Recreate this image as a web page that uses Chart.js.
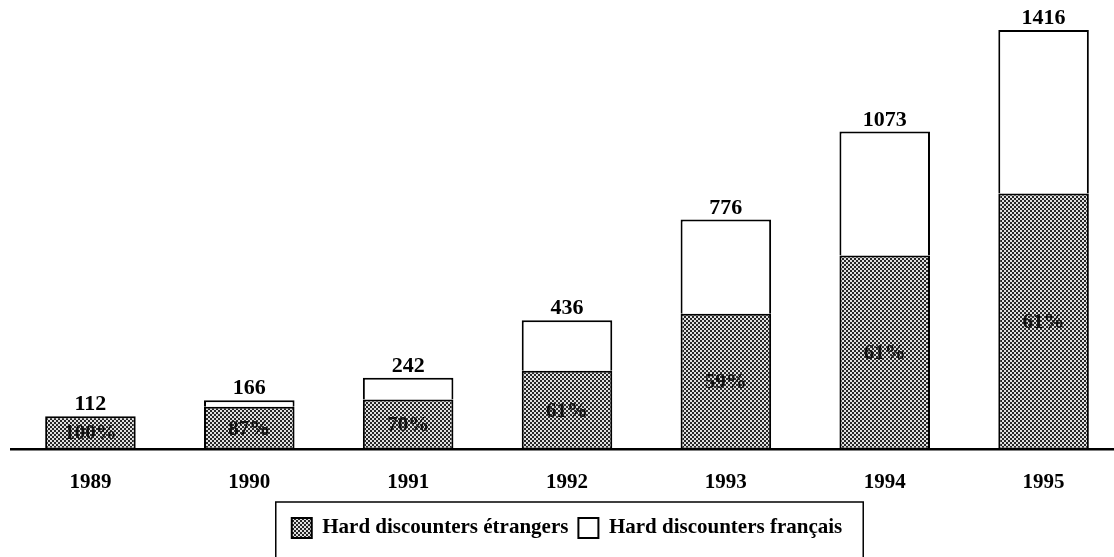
<!DOCTYPE html>
<html>
<head>
<meta charset="utf-8">
<script src="https://cdn.jsdelivr.net/npm/chart.js@4/dist/chart.umd.min.js"></script>
<style>
  html, body { margin: 0; padding: 0; background: #fff; overflow: hidden; }
  #wrap { width: 1124px; height: 557px; }
</style>
</head>
<body>
<div id="wrap"><canvas id="barChart"></canvas></div>
<script>
const annees = ['1989', '1990', '1991', '1992', '1993', '1994', '1995'];
const totaux = [112, 166, 242, 436, 776, 1073, 1416];
const etrangers = [112, 144, 169, 266, 458, 655, 864];
const francais = [0, 22, 73, 170, 318, 418, 552];
const partEtrangers = ['100%', '87%', '70%', '61%', '59%', '61%', '61%'];

// motif damier pour les hard discounters étrangers
function damier() {
    const c = document.createElement('canvas');
    c.width = 4; c.height = 4;
    const g = c.getContext('2d');
    g.fillStyle = '#e0e0e0';
    g.fillRect(0, 0, 4, 4);
    g.fillStyle = '#262626';
    g.fillRect(0, 0, 2, 2);
    g.fillRect(2, 2, 2, 2);
    return g.createPattern(c, 'repeat');
}

const police = "'Liberation Serif', 'DejaVu Serif', serif";

// étiquettes : totaux au-dessus, pourcentages dans la partie étrangère
const etiquettes = {
    id: 'etiquettes',
    afterDatasetsDraw(chart) {
        const ctx = chart.ctx;
        const m0 = chart.getDatasetMeta(0);
        const m1 = chart.getDatasetMeta(1);
        ctx.save();
        ctx.textAlign = 'center';
        ctx.fillStyle = '#000';
        ctx.font = 'bold 22px ' + police;
        ctx.textBaseline = 'alphabetic';
        m1.data.forEach((bar, i) => {
            ctx.fillText(String(totaux[i]), bar.x, Math.min(bar.y, m0.data[i].y) - 6);
        });
        ctx.font = 'bold 21px ' + police;
        ctx.fillStyle = '#111';
        ctx.textBaseline = 'middle';
        m0.data.forEach((bar, i) => {
            ctx.fillText(partEtrangers[i], bar.x, (bar.y + bar.base) / 2 + 1);
        });
        ctx.restore();
    },
    afterDraw(chart) {
        const boxes = chart.legend.legendHitBoxes;
        if (!boxes || !boxes.length) return;
        let l = Infinity, r = -Infinity, t = Infinity;
        boxes.forEach(h => {
            l = Math.min(l, h.left); r = Math.max(r, h.left + h.width);
            t = Math.min(t, h.top);
        });
        const ctx = chart.ctx;
        ctx.save();
        ctx.strokeStyle = '#000';
        ctx.lineWidth = 1.5;
        ctx.strokeRect(l - 16, t - 15.5, (r - l) + 37, chart.height - t + 30);
        ctx.restore();
    }
};

const ctx = document.getElementById('barChart').getContext('2d');
new Chart(ctx, {
    type: 'bar',
    data: {
        labels: annees,
        datasets: [{
            label: 'Hard discounters étrangers',
            data: etrangers,
            backgroundColor: damier(),
            borderColor: '#000',
            borderWidth: 2,
            borderSkipped: false
        }, {
            label: 'Hard discounters français',
            data: francais,
            backgroundColor: '#fff',
            borderColor: '#000',
            borderWidth: 2,
            borderSkipped: 'bottom'
        }]
    },
    options: {
        responsive: true,
        maintainAspectRatio: false,
        animation: false,
        layout: { padding: { top: 0, left: 11, right: 1, bottom: 8.5 } },
        datasets: { bar: { barPercentage: 0.57, categoryPercentage: 1 } },
        scales: {
            x: {
                stacked: true,
                grid: { display: false },
                border: { display: true, color: '#000', width: 2.5 },
                ticks: { color: '#000', font: { family: police, size: 21, weight: 'bold', lineHeight: 1.0 }, padding: 14.5 }
            },
            y: {
                stacked: true,
                display: false,
                min: 0,
                max: 1517
            }
        },
        plugins: {
            legend: {
                position: 'bottom',
                labels: {
                    color: '#000',
                    boxWidth: 20,
                    boxHeight: 20,
                    padding: 10,
                    font: { family: police, size: 21, weight: 'bold' }
                }
            },
            tooltip: { enabled: false }
        }
    },
    plugins: [etiquettes]
});
</script>
</body>
</html>
